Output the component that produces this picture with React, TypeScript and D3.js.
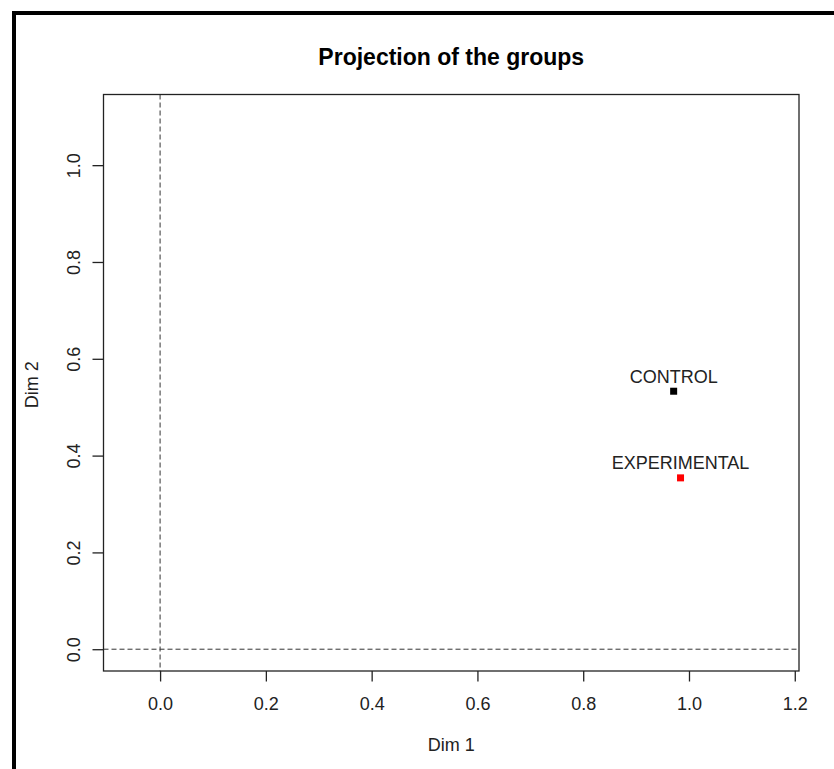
import { useEffect, useRef } from 'react';
import * as d3 from 'd3';

const groups = ['CONTROL', 'EXPERIMENTAL'];
const dim1 = [0.971, 0.984];
const dim2 = [0.533, 0.354];
const groupColors = ['#000000', '#ff0000'];
const xTicks = [0, 0.2, 0.4, 0.6, 0.8, 1.0, 1.2];
const yTicks = [0, 0.2, 0.4, 0.6, 0.8, 1.0];

export default function App() {
  const svgRef = useRef<SVGSVGElement>(null);

  useEffect(() => {
    if (!svgRef.current) return;
    const svg = d3.select(svgRef.current);
    svg.selectAll('*').remove();

    const box = { left: 103.5, right: 799, top: 94.5, bottom: 671 };
    const font = '"Liberation Sans", Arial, sans-serif';

    const x = d3.scaleLinear().domain([-0.107, 1.208]).range([box.left, box.right]);
    const y = d3.scaleLinear().domain([-0.045, 1.146]).range([box.bottom, box.top]);

    svg.append('rect').attr('width', 834).attr('height', 769).attr('fill', '#fff');

    // outer frame, cropped at right and bottom
    svg.append('rect')
      .attr('x', 14).attr('y', 13)
      .attr('width', 900).attr('height', 900)
      .attr('fill', 'none').attr('stroke', '#000').attr('stroke-width', 4);

    svg.append('text')
      .attr('x', (box.left + box.right) / 2)
      .attr('y', 64.5)
      .attr('text-anchor', 'middle')
      .attr('font-family', font)
      .attr('font-weight', 'bold')
      .attr('font-size', 23)
      .text('Projection of the groups');

    // reference lines at 0
    svg.append('line')
      .attr('x1', x(0)).attr('x2', x(0))
      .attr('y1', box.top).attr('y2', box.bottom)
      .attr('stroke', '#333').attr('stroke-dasharray', '5,3');
    svg.append('line')
      .attr('x1', box.left).attr('x2', box.right)
      .attr('y1', y(0)).attr('y2', y(0))
      .attr('stroke', '#333').attr('stroke-dasharray', '5,3');

    svg.append('rect')
      .attr('x', box.left).attr('y', box.top)
      .attr('width', box.right - box.left).attr('height', box.bottom - box.top)
      .attr('fill', 'none').attr('stroke', '#222').attr('stroke-width', 1.3);

    const xAxis = svg.append('g')
      .attr('transform', `translate(0,${box.bottom})`)
      .call(d3.axisBottom(x).tickValues(xTicks).tickSize(10.5).tickPadding(16).tickFormat(d3.format('.1f')));
    xAxis.select('.domain').remove();
    xAxis.selectAll('line').attr('stroke', '#222').attr('stroke-width', 1.3);
    xAxis.selectAll('text')
      .attr('font-family', font).attr('font-size', 18).attr('fill', '#222');

    const yAxis = svg.append('g')
      .attr('transform', `translate(${box.left},0)`)
      .call(d3.axisLeft(y).tickValues(yTicks).tickSize(11).tickFormat(d3.format('.1f')));
    yAxis.select('.domain').remove();
    yAxis.selectAll('line').attr('stroke', '#222').attr('stroke-width', 1.3);
    yAxis.selectAll('text')
      .attr('font-family', font).attr('font-size', 18).attr('fill', '#222')
      .attr('x', null).attr('dy', null).attr('y', null)
      .attr('text-anchor', 'middle')
      .attr('transform', `translate(${79.5 - box.left},0) rotate(-90)`);

    svg.append('text')
      .attr('x', (box.left + box.right) / 2)
      .attr('y', 751)
      .attr('text-anchor', 'middle')
      .attr('font-family', font).attr('font-size', 18).attr('fill', '#222')
      .text('Dim 1');

    svg.append('text')
      .attr('transform', `translate(37.5,${(box.top + box.bottom) / 2 + 2}) rotate(-90)`)
      .attr('text-anchor', 'middle')
      .attr('font-family', font).attr('font-size', 18).attr('fill', '#222')
      .text('Dim 2');

    const pts = svg.append('g');
    groups.forEach((g, i) => {
      pts.append('rect')
        .attr('x', x(dim1[i]) - 3.5).attr('y', y(dim2[i]) - 3.5)
        .attr('width', 7).attr('height', 7)
        .attr('fill', groupColors[i]);
      pts.append('text')
        .attr('x', x(dim1[i]))
        .attr('y', y(dim2[i]) - 8.5)
        .attr('text-anchor', 'middle')
        .attr('font-family', font).attr('font-size', 18).attr('fill', '#222')
        .text(g);
    });
  }, []);

  return (
    <svg
      ref={svgRef}
      width={834}
      height={769}
      style={{ position: 'absolute', left: 0, top: 0 }}
    />
  );
}
